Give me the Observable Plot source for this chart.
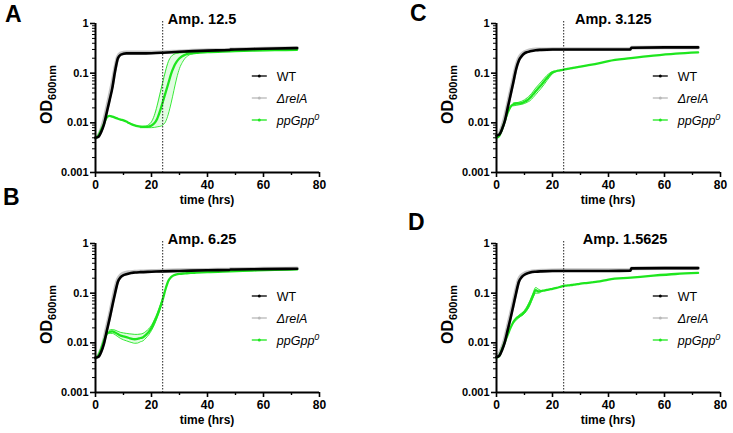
<!DOCTYPE html>
<html><head><meta charset="utf-8">
<script src="https://cdn.jsdelivr.net/npm/d3@7"></script>
<script src="https://cdn.jsdelivr.net/npm/@observablehq/plot@0.6"></script>
<style>
html,body{margin:0;padding:0;background:#fff;}
#wrap{position:relative;width:733px;height:433px;overflow:hidden;font-family:"Liberation Sans",Arial,sans-serif;}
#wrap svg{position:absolute;overflow:visible;}
</style></head><body><div id="wrap"></div>
<script>
// ---------- data ----------
const tGrowth = [0,1,2,3,4,5,6,7,8,9,10,11,12,14,16,20,24,30,40,47.8,48.2,60,72];
const wt_A  = [0.005,0.0052,0.0065,0.0092,0.016,0.028,0.05,0.11,0.2,0.235,0.245,0.25,0.25,0.25,0.25,0.252,0.258,0.27,0.285,0.292,0.298,0.31,0.32];
const rel_A = [0.005,0.0055,0.0072,0.011,0.019,0.034,0.062,0.125,0.215,0.25,0.26,0.262,0.262,0.262,0.262,0.263,0.265,0.275,0.29,0.295,0.3,0.31,0.32];
const wt_B  = [0.005,0.0052,0.0065,0.0095,0.017,0.03,0.055,0.1,0.17,0.21,0.23,0.24,0.25,0.26,0.265,0.27,0.275,0.28,0.29,0.293,0.3,0.305,0.31];
const rel_B = [0.005,0.0055,0.0072,0.011,0.02,0.035,0.065,0.12,0.19,0.23,0.25,0.26,0.265,0.27,0.275,0.28,0.285,0.29,0.295,0.298,0.305,0.31,0.315];
const wt_C  = [0.0055,0.0058,0.0075,0.011,0.02,0.036,0.065,0.12,0.18,0.22,0.25,0.265,0.275,0.29,0.295,0.3,0.3,0.3,0.3,0.3,0.325,0.33,0.33];
const rel_C = [0.0055,0.006,0.0082,0.013,0.023,0.042,0.075,0.135,0.2,0.24,0.265,0.28,0.29,0.3,0.3,0.305,0.305,0.305,0.305,0.305,0.325,0.33,0.33];
const wt_D  = [0.0052,0.0055,0.0072,0.0105,0.018,0.031,0.055,0.1,0.17,0.21,0.235,0.25,0.26,0.27,0.275,0.28,0.28,0.28,0.28,0.285,0.315,0.32,0.32];
const rel_D = [0.0055,0.006,0.008,0.012,0.021,0.036,0.064,0.115,0.19,0.23,0.25,0.262,0.27,0.278,0.283,0.288,0.29,0.29,0.29,0.29,0.315,0.32,0.32];

const tPp = [0,1,2,3,4,5,6,7,8,9,10,11,12,13,14,15,16,17,18,19,20,21,22,23,24,25,26,27,28,29,30,32,34,36,40,48,56,64,72];
const pp_A = [0.005,0.0055,0.0072,0.0095,0.0128,0.0138,0.0133,0.0127,0.0121,0.0116,0.0112,0.0106,0.0099,0.0093,0.0089,0.0086,0.0084,0.0083,0.0083,0.0084,0.0088,0.0098,0.012,0.017,0.026,0.04,0.062,0.097,0.135,0.17,0.2,0.235,0.25,0.255,0.265,0.275,0.285,0.29,0.295];
const pp_B = [0.005,0.0055,0.0075,0.011,0.015,0.0165,0.017,0.0162,0.015,0.014,0.0135,0.013,0.0125,0.012,0.0118,0.012,0.0125,0.013,0.0145,0.0165,0.02,0.026,0.035,0.05,0.075,0.12,0.175,0.21,0.23,0.24,0.245,0.25,0.255,0.258,0.265,0.275,0.285,0.295,0.3];
const pp_C = [0.005,0.0055,0.0075,0.011,0.016,0.021,0.0235,0.0245,0.0245,0.025,0.0265,0.0285,0.032,0.037,0.043,0.05,0.058,0.068,0.08,0.092,0.103,0.108,0.112,0.115,0.118,0.121,0.124,0.127,0.13,0.133,0.136,0.142,0.148,0.155,0.175,0.2,0.225,0.247,0.262];
const pp_D = [0.005,0.0055,0.0075,0.0105,0.0145,0.02,0.026,0.031,0.034,0.037,0.042,0.05,0.065,0.088,0.115,0.108,0.11,0.113,0.116,0.119,0.122,0.126,0.13,0.135,0.14,0.142,0.144,0.146,0.149,0.152,0.155,0.16,0.165,0.17,0.188,0.205,0.225,0.243,0.255];

const tBand_A = [16,18,19,20,21,22,23,24,25,26,27,28,29,30,31,32,33,34,36,38];
const ppHi_A  = [0.0085,0.0086,0.0092,0.0105,0.014,0.022,0.038,0.065,0.11,0.17,0.215,0.24,0.25,0.255,0.258,0.26,0.262,0.265,0.265,0.268];
const ppLo_A  = [0.008,0.008,0.008,0.008,0.0081,0.0083,0.0085,0.009,0.0105,0.015,0.025,0.045,0.08,0.125,0.165,0.2,0.225,0.24,0.255,0.262];
const tBand_B = [5,6,7,8,9,10,11,12,13,14,15,16,17,18,19,20,21,22,23,24];
const ppHi_B  = [0.018,0.0185,0.018,0.017,0.0162,0.0158,0.0155,0.0152,0.015,0.0148,0.0148,0.015,0.0155,0.017,0.019,0.0225,0.029,0.039,0.055,0.08];
const ppLo_B  = [0.0155,0.0155,0.0146,0.0133,0.0122,0.0115,0.011,0.0105,0.0101,0.0098,0.0099,0.0105,0.011,0.0125,0.0145,0.0178,0.023,0.032,0.046,0.07];
const tBand_C = [6,8,10,11,12,13,14,15,16,17,18,19,20,21];
const ppHi_C  = [0.025,0.026,0.029,0.032,0.036,0.042,0.05,0.058,0.067,0.078,0.09,0.1,0.108,0.11];
const ppLo_C  = [0.022,0.023,0.0245,0.026,0.028,0.032,0.037,0.043,0.05,0.059,0.071,0.084,0.098,0.106];
const tBand_D = [6,8,10,12,13,14,15,16];
const ppHi_D  = [0.027,0.036,0.045,0.072,0.098,0.13,0.12,0.112];
const ppLo_D  = [0.025,0.032,0.039,0.058,0.08,0.1,0.1,0.108];

const titles = ["Amp. 12.5","Amp. 6.25","Amp. 3.125","Amp. 1.5625"];
const panelKeys = ["A","B","C","D"];
const xTicks = [0,20,40,60,80];
const xMinor = [10,30,50,70];
const yTicks = [1,0.1,0.01,0.001];
const yMinor = [0.002,0.003,0.004,0.005,0.006,0.007,0.008,0.009,0.02,0.03,0.04,0.05,0.06,0.07,0.08,0.09,0.2,0.3,0.4,0.5,0.6,0.7,0.8,0.9];
const ampTime = 24;
const legendNames = ["WT","ΔrelA","ppGpp"];

// ---------- styling / layout ----------
const GREEN = "#1ee61e", GREY = "#c4c4c4", BLACK = "#000";
const FONT = "Liberation Sans, Arial, Helvetica, sans-serif";
const layout = {
  A:{left:0,   top:0,   width:366, mr:47, titleAt:26},
  B:{left:0,   top:220, width:366, mr:47, titleAt:26},
  C:{left:401, top:0,   width:332, mr:13, titleAt:28.2},
  D:{left:401, top:220, width:332, mr:13, titleAt:31}
};
const letterPos = {A:[5,22], B:[3,205], C:[410,21], D:[408,230]};

const series = {
  A:{wt:wt_A, rel:rel_A, pp:pp_A, tb:tBand_A, hi:ppHi_A, lo:ppLo_A},
  B:{wt:wt_B, rel:rel_B, pp:pp_B, tb:tBand_B, hi:ppHi_B, lo:ppLo_B},
  C:{wt:wt_C, rel:rel_C, pp:pp_C, tb:tBand_C, hi:ppHi_C, lo:ppLo_C},
  D:{wt:wt_D, rel:rel_D, pp:pp_D, tb:tBand_D, hi:ppHi_D, lo:ppLo_D}
};
const rows = (ts, vs) => ts.map((t,i) => ({t, v: vs[i]}));
const wrap = document.getElementById("wrap");
const ML = 95, MT = 23, MB = 44, H = 216;

panelKeys.forEach((k, pi) => {
  const L = layout[k], S = series[k];
  const band = S.tb.map((t,i) => ({t, hi: S.hi[i], lo: S.lo[i]}));
  const curve = "monotone-x";
  const chart = Plot.plot({
    width: L.width, height: H,
    marginLeft: ML, marginRight: L.mr, marginTop: MT, marginBottom: MB,
    style: {fontFamily: FONT, background: "transparent", color: "#000"},
    x: {domain: [0, 80]},
    y: {type: "log", domain: [0.001, 1]},
    marks: [
      Plot.lineY(rows(tGrowth, S.rel), {x:"t", y:"v", stroke: GREY, strokeWidth: 3.8, curve}),
      Plot.areaY(band, {x:"t", y1:"lo", y2:"hi", fill: GREEN, fillOpacity: 0.13, curve}),
      Plot.lineY(band, {x:"t", y:"hi", stroke: GREEN, strokeWidth: 0.9, curve}),
      Plot.lineY(band, {x:"t", y:"lo", stroke: GREEN, strokeWidth: 0.9, curve}),
      Plot.lineY(rows(tPp, S.pp), {x:"t", y:"v", stroke: GREEN, strokeWidth: 2.3, curve}),
      Plot.lineY(rows(tGrowth, S.wt), {x:"t", y:"v", stroke: BLACK, strokeWidth: 2.6, curve}),
      Plot.ruleX([ampTime], {stroke: "#222", strokeWidth: 1, strokeDasharray: "1.5,1.5", y1: 1, y2: 0.001, insetTop: -2}),
      Plot.axisY({ticks: yMinor, tickSize: 3, tickFormat: () => "", label: null, strokeWidth: 1}),
      Plot.axisY({ticks: yTicks, tickSize: 5, tickPadding: 2, tickFormat: d => String(d), label: null,
                  fontSize: 11, fontWeight: "bold", strokeWidth: 1.6}),
      Plot.axisX({ticks: xMinor, tickSize: 3, tickFormat: () => "", label: null, strokeWidth: 1.4}),
      Plot.axisX({ticks: xTicks, tickSize: 5, tickPadding: 3, label: null,
                  fontSize: 12, fontWeight: "bold", strokeWidth: 1.6}),
      Plot.ruleX([0], {strokeWidth: 2}),
      Plot.ruleY([0.001], {strokeWidth: 2})
    ]
  });
  chart.style.left = L.left + "px";
  chart.style.top = L.top + "px";
  wrap.appendChild(chart);

  const sx = chart.scale("x"), sy = chart.scale("y");
  const X = v => sx.apply(v), Y = v => sy.apply(v);
  const svg = d3.select(chart);
  const top = Y(1), bottom = Y(0.001), midY = (top + bottom) / 2;

  // title
  svg.append("text").attr("x", X(L.titleAt)).attr("y", top + 1).attr("text-anchor", "start")
    .attr("font-family", FONT).attr("font-size", 14.5).attr("font-weight", "bold").text(titles[pi]);
  // x label
  svg.append("text").attr("x", (X(0) + X(80)) / 2).attr("y", bottom + 32)
    .attr("text-anchor", "middle").attr("font-family", FONT).attr("font-size", 12)
    .attr("font-weight", "bold").text("time (hrs)");
  // y label
  const yl = svg.append("text").attr("transform", `translate(${ML - 43},${midY - 3}) rotate(-90)`)
    .attr("text-anchor", "middle").attr("font-family", FONT).attr("font-weight", "bold").attr("font-size", 16);
  yl.append("tspan").text("OD");
  yl.append("tspan").attr("font-size", 11).attr("dy", 4).text("600nm");

  // legend
  const cols = [BLACK, "#b8b8b8", GREEN];
  const lx = X(56);
  legendNames.forEach((name, i) => {
    const ly = top + 53 + i * 22;
    svg.append("line").attr("x1", lx).attr("x2", lx + 15).attr("y1", ly).attr("y2", ly)
      .attr("stroke", cols[i]).attr("stroke-width", 1.3);
    svg.append("circle").attr("cx", lx + 7.5).attr("cy", ly).attr("r", 1.5).attr("fill", cols[i]);
    const t = svg.append("text").attr("x", lx + 25).attr("y", ly + 4.5).attr("text-anchor", "start")
      .attr("font-family", FONT).attr("font-size", 12.5);
    if (i === 0) t.text(name);
    else {
      t.attr("font-style", "italic").text(name);
      if (i === 2) t.append("tspan").attr("font-size", 9).attr("dy", -5).text("0");
    }
  });
});

// panel letters overlay
const ov = d3.select(wrap).append("svg").attr("width", 733).attr("height", 433)
  .style("left", "0px").style("top", "0px").style("pointer-events", "none");
panelKeys.forEach(k => {
  ov.append("text").attr("x", letterPos[k][0]).attr("y", letterPos[k][1]).attr("text-anchor", "start")
    .attr("font-family", FONT).attr("font-weight", "bold").attr("font-size", 23).text(k);
});
</script></body></html>
